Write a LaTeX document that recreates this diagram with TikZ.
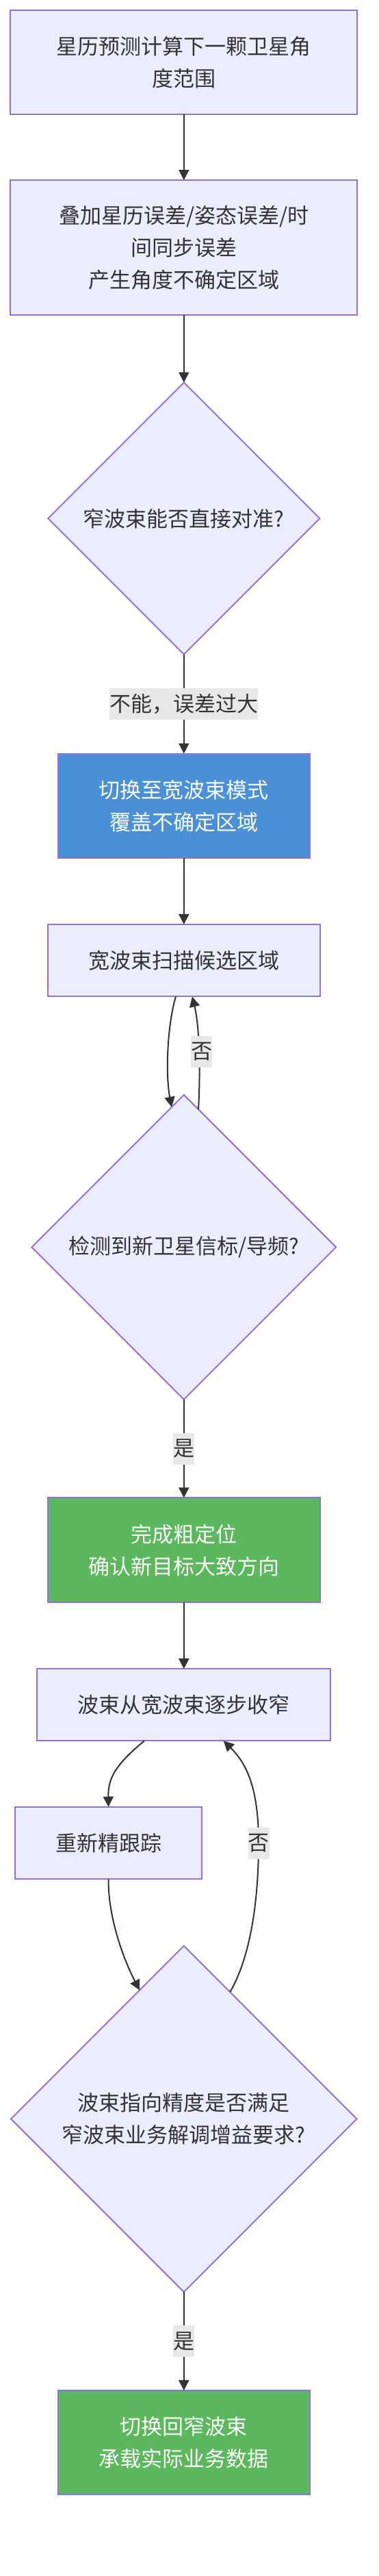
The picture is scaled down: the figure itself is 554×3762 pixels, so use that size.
\documentclass[tikz,border=0pt]{standalone}
\usepackage{fontspec}
\setmainfont{Noto Sans CJK SC}
\usetikzlibrary{shapes.geometric,arrows.meta}
\definecolor{nodefill}{HTML}{ECECFF}
\definecolor{nodeline}{HTML}{9370DB}
\definecolor{edgecol}{HTML}{333333}
\definecolor{txt}{HTML}{333333}
\definecolor{bluefill}{HTML}{4A90D9}
\definecolor{greenfill}{HTML}{5CB85C}
\definecolor{lblbg}{HTML}{E8E8E8}
\begin{document}
\begin{tikzpicture}[x=1pt,y=-1pt,
  base/.style={font=\fontsize{31}{47}\selectfont, text=txt, align=center, inner sep=0pt, outer sep=0pt, line width=2pt, draw=nodeline},
  box/.style={base, rectangle, fill=nodefill},
  bluebox/.style={base, rectangle, fill=bluefill, text=white},
  greenbox/.style={base, rectangle, fill=greenfill, text=white},
  dia/.style={base, diamond, fill=nodefill, aspect=1},
  lbl/.style={font=\fontsize{31}{47}\selectfont, text=txt, fill=lblbg, inner sep=0pt, minimum height=46pt},
  edge/.style={draw=edgecol, line width=2pt, -{Triangle[length=15pt,width=15pt]}}
]
\useasboundingbox[fill=white] (0,0) rectangle (554,3762);

\node[box, minimum width=507pt, minimum height=151.6pt] (n1) at (268.8,90.7) {星历预测计算下一颗卫星角\\度范围};
\node[box, minimum width=507pt, minimum height=197.3pt] (n2) at (268.8,361.7) {叠加星历误差/姿态误差/时\\间同步误差\\产生角度不确定区域};
\node[dia, minimum width=397pt, minimum height=397pt] (d1) at (268.8,757.1) {窄波束能否直接对准?};
\node[bluebox, minimum width=367.5pt, minimum height=152.6pt] (n3) at (268.8,1176.8) {切换至宽波束模式\\覆盖不确定区域};
\node[box, minimum width=397.8pt, minimum height=105.5pt] (n4) at (268.8,1402.7) {宽波束扫描候选区域};
\node[dia, minimum width=444.8pt, minimum height=444.8pt] (d2) at (268.8,1821.3) {检测到新卫星信标/导频?};
\node[greenbox, minimum width=397.8pt, minimum height=153pt] (n5) at (268.8,2263.8) {完成粗定位\\确认新目标大致方向};
\node[box, minimum width=429.3pt, minimum height=105.2pt] (n6) at (268.8,2489.7) {波束从宽波束逐步收窄};
\node[box, minimum width=273.1pt, minimum height=105.6pt] (n7) at (158.5,2691.5) {重新精跟踪};
\node[dia, minimum width=505.4pt, minimum height=505.4pt] (d3) at (268.8,3094.4) {波束指向精度是否满足\\窄波束业务解调增益要求?};
\node[greenbox, minimum width=367.5pt, minimum height=151.7pt] (n8) at (268.8,3566.8) {切换回窄波束\\承载实际业务数据};

\draw[edge] (n1) -- (n2);
\draw[edge] (n2) -- (d1);
\draw[edge] (d1) -- node[lbl]{不能，误差过大} (n3);
\draw[edge] (n3) -- (n4);
\draw[edge] ([xshift=-11.9pt]n4.south) .. controls (244,1500) and (242,1570) .. (d2.95.6);
\draw[edge] (d2.84.7) .. controls (293,1570) and (292,1500) .. node[lbl, pos=0.5, xshift=4pt]{否} ([xshift=12.1pt]n4.south);
\draw[edge] (d2) -- node[lbl]{是} (n5);
\draw[edge] (n5) -- (n6);
\draw[edge] ([xshift=-57.8pt]n6.south) .. controls (165,2580) and (158,2600) .. (n7.north);
\draw[edge] (n7.south) .. controls (158,2800) and (180,2860) .. (d3.109.7);
\draw[edge] (d3.70) .. controls (365,2860) and (378,2780) .. (378,2691.5) node[lbl]{否} .. controls (378,2610) and (360,2575) .. ([xshift=58pt]n6.south);
\draw[edge] (d3) -- node[lbl]{是} (n8);
\end{tikzpicture}
\end{document}
